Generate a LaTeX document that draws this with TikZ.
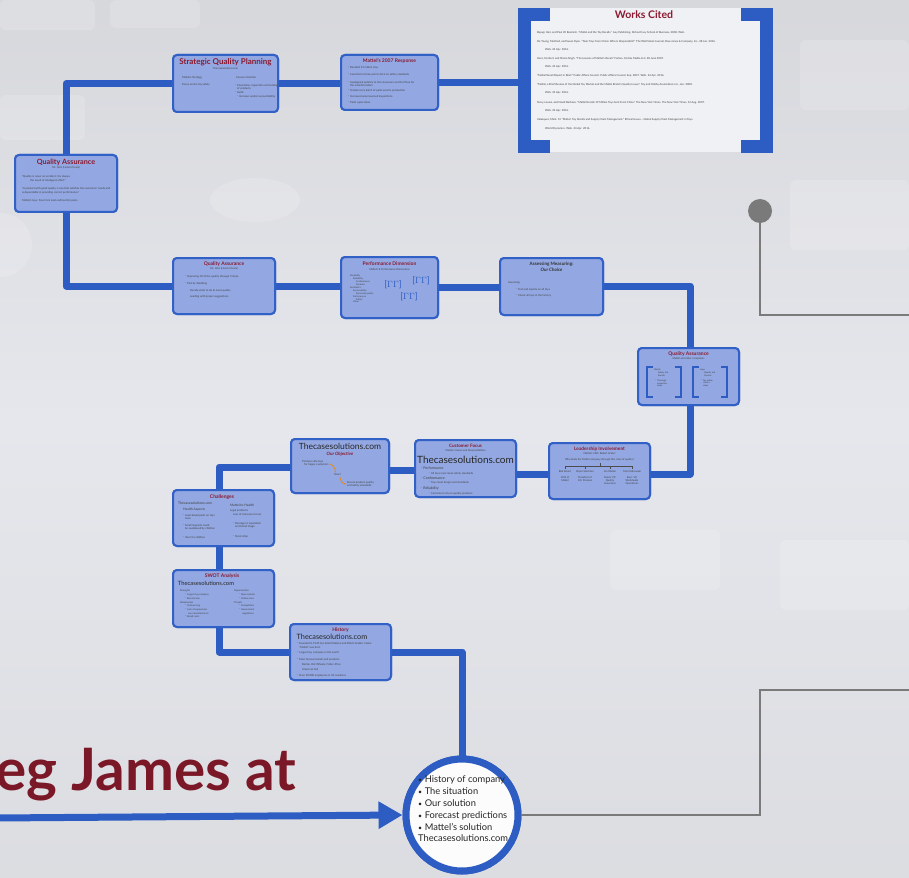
\documentclass[tikz,border=0pt]{standalone}
\usepackage{fontspec}
\setmainfont{Lato}
\usetikzlibrary{arrows.meta,calc}
\definecolor{bgc}{HTML}{E6E7EC}
\definecolor{pathblue}{HTML}{2D5CC3}
\definecolor{boxfill}{HTML}{93A8E2}
\definecolor{boxline}{HTML}{3160C6}
\definecolor{tred}{HTML}{8B1A30}
\definecolor{bigred}{HTML}{7B1828}
\definecolor{grayl}{HTML}{7A7A7A}
\definecolor{orng}{HTML}{E0881E}
\newcommand\mybul{{\scalebox{0.75}{\textbullet}}\hspace{2.5pt}}
\begin{document}
\begin{tikzpicture}[x=1pt,y=-1pt,
  pathline/.style={draw=pathblue,line width=7pt,line join=round},
  box/.style={draw=boxline,fill=boxfill,line width=2pt,rounded corners=4pt,inner sep=0pt},
  ttl/.style={font=\fontsize{5}{6}\selectfont\bfseries,text=tred,inner sep=0pt},
  sub/.style={font=\fontsize{2.6}{3}\selectfont,text=black!75,inner sep=0pt},
  tiny/.style={font=\fontsize{2.7}{3.6}\selectfont,text=black!75,inner sep=0pt,anchor=west,align=left},
  tinyb/.style={tiny,anchor=north west},
  brand/.style={font=\fontsize{7}{8}\selectfont,text=black!85,inner sep=0pt},
  grayline/.style={draw=grayl,line width=2.6pt},
  bracket/.style={draw=pathblue,line width=2.4pt}
]
\useasboundingbox (0,0) rectangle (909,877);
% background
\shade[top color=bgc!85!gray,bottom color=bgc] (0,0) rectangle (909,420);
\shade[top color=bgc,bottom color=bgc!90!gray] (0,420) rectangle (909,877);
\begin{scope}[fill=white,opacity=0.16]
\fill[rounded corners=6pt] (0,0) rectangle (95,30);
\fill[rounded corners=6pt] (110,0) rectangle (200,28);
\fill[rounded corners=6pt] (800,40) rectangle (909,110);
\fill[rounded corners=6pt] (790,180) rectangle (909,250);
\fill[rounded corners=6pt] (0,95) rectangle (85,140);
\fill (255,200) ellipse (45 and 22);
\fill[rounded corners=6pt] (610,530) rectangle (720,590);
\fill[rounded corners=6pt] (780,540) rectangle (909,610);
\fill (0,245) circle (32);
\end{scope}

% ---------- boxes ----------
\node[box,minimum width=102,minimum height=57] (qa1) at (66,183.5) {};
\node[box,minimum width=105,minimum height=57] (sqp) at (225.5,83.5) {};
\node[box,minimum width=97,minimum height=55] (mat) at (389.5,82.5) {};
\node[box,minimum width=102,minimum height=56] (qa2) at (224,286) {};
\node[box,minimum width=97,minimum height=61] (pd) at (389.5,287.5) {};
\node[box,minimum width=103,minimum height=57] (ass) at (551.5,286.5) {};
\node[box,minimum width=101,minimum height=57] (qa3) at (688.5,376.5) {};
\node[box,minimum width=101,minimum height=56] (lead) at (599.5,471) {};
\node[box,minimum width=101,minimum height=57] (cust) at (465.5,468.5) {};
\node[box,minimum width=98,minimum height=54] (obj) at (340,466) {};
\node[box,minimum width=101,minimum height=56] (chal) at (223.5,518) {};
\node[box,minimum width=101,minimum height=57] (swot) at (223.5,598.5) {};
\node[box,minimum width=101,minimum height=56] (hist) at (340.5,652) {};
\node[circle,draw=pathblue,line width=7pt,fill=white!88!bgc,minimum size=112] (circ) at (462,815) {};
\node[circle,fill=grayl,minimum size=24,inner sep=0pt] (dot) at (760,211) {};

% ---------- connectors ----------
\coordinate (wcl) at (520,82);
\coordinate (ga) at (760,815);
\coordinate (gb) at (760,690);
\coordinate (gc) at (912,690);
\coordinate (gd) at (760,315);
\coordinate (ge) at (912,315);
\coordinate (astart) at (-5,818);
\draw[grayline] (circ.east) -- (ga) -- (gb) -- (gc);
\draw[grayline] (dot) -- (gd) -- (ge);
\draw[pathline] (qa1.north) |- (sqp.west);
\draw[pathline] (sqp.east) -- (sqp.east -| mat.west);
\draw[pathline] (mat.east) -- (mat.east -| wcl);
\draw[pathline] (qa1.south) |- (qa2.west);
\draw[pathline] (qa2.east) -- (qa2.east -| pd.west);
\draw[pathline] (pd.east) -- (pd.east -| ass.west);
\draw[pathline] ([yshift=0.5pt]ass.east) -| ([xshift=1.5pt]qa3.north);
\draw[pathline] ([xshift=1.5pt]qa3.south) |- ([yshift=-3pt]lead.east);
\draw[pathline] ([yshift=-3pt]lead.west) -- ([yshift=-3pt]lead.west -| cust.east);
\draw[pathline] ([yshift=-2pt]cust.west) -- ([yshift=-2pt]cust.west -| obj.east);
\draw[pathline] ([yshift=-1pt]obj.west) -| ([xshift=-4.5pt]chal.north);
\draw[pathline] ([xshift=-4.5pt]chal.south) -- ([xshift=-4.5pt]swot.north);
\draw[pathline] ([xshift=-4.5pt]swot.south) |- (hist.west);
\draw[pathline] (hist.east) -| (circ.north);
\draw[draw=pathblue,line width=7pt,-{Triangle[length=24pt,width=26pt]}] (astart) -- (circ.west);

% redraw boxes on top of lines
\foreach \n/\w/\h in {qa1/102/57,sqp/105/57,mat/97/55,qa2/102/56,pd/97/61,ass/103/57,qa3/101/57,lead/101/56,cust/101/57,obj/98/54,chal/101/56,swot/101/57,hist/101/56}{
  \draw[box] ($(\n.center)+(-\w/2,-\h/2)$) rectangle ($(\n.center)+(\w/2,\h/2)$);
}
\draw[draw=pathblue,line width=7pt,fill=white!88!bgc] (circ.center) circle (56);

% ---------- Works Cited ----------
\fill[bgc!60!white] (525,8) rectangle (765,152);
\fill[pathblue] (518,8) rectangle (531,153);
\fill[pathblue] (518,8) rectangle (550,21);
\fill[pathblue] (518,140) rectangle (550,153);
\fill[pathblue] (760,8) rectangle (773,153);
\fill[pathblue] (741,8) rectangle (773,21);
\fill[pathblue] (741,140) rectangle (773,153);
\node[font=\fontsize{10.5}{12}\selectfont\bfseries,text=tred,inner sep=0pt] (wct) at (644,15) {Works Cited};
\node[tiny] (w1) at (537,33) {Bapuji, Hari, and Paul W. Beamish. ``Mattel and the Toy Recalls.'' Ivey Publishing. Richard Ivey School of Business, 2008. Web.};
\node[tiny] (w2) at (537,42) {De Young, Manfred, and Susan Ryan. ``Toxic Toys from China: Who Is Responsible?'' The Wall Street Journal, Dow Jones \& Company, Inc., 28 Jan. 2016.};
\node[tiny] (w2b) at (545,50) {Web. 24 Apr. 2016.};
\node[tiny] (w3) at (537,59) {Hero, Herbert, and Shona Singh. ``The Lessons of Mattel's Recall.'' Forbes. Forbes Media LLC, 28 June 2007.};
\node[tiny] (w3b) at (545,67) {Web. 24 Apr. 2016.};
\node[tiny] (w4) at (537,76) {``Mattel Recall Report in Brief.'' Public Affairs Council. Public Affairs Council, Sep. 2007. Web. 24 Apr. 2016.};
\node[tiny] (w5) at (537,85) {``Mattel, a Brief Review of the Global Toy Market and the Mattel Brand's Quality Issues.'' Toy and Hobby Association, Inc., Jan. 2008.};
\node[tiny] (w5b) at (545,93) {Web. 24 Apr. 2016.};
\node[tiny] (w6) at (537,103) {Story, Louise, and David Barboza. ``Mattel Recalls 19 Million Toys Sent From China.'' The New York Times. The New York Times, 14 Aug. 2007.};
\node[tiny] (w6b) at (545,111) {Web. 24 Apr. 2016.};
\node[tiny] (w7) at (537,120) {Velasquez, Mark. M. ``Mattel: Toy Recalls and Supply Chain Management.'' Ethical Issues -- Global Supply Chain Management in Toys.};
\node[tiny] (w7b) at (545,129) {World Dynamics. Web. 24 Apr. 2016.};

% ---------- box contents ----------
% QA1
\node[ttl,font=\fontsize{7.2}{8}\selectfont\bfseries] (t1) at (66,162) {Quality Assurance};
\node[sub] (s1) at (66,168) {Mr. John (Head of team)};
\node[tinyb] (q1a) at (22,175.5) {``Quality is never an accident; it is always\\\hspace{8pt}the result of intelligent effort.''};
\node[tinyb] (q1b) at (22,187.5) {``A product with good quality is one that satisfies the customers' needs and\\is dependable in providing correct performance.''};
\node[tiny] (q1c) at (22,201) {Mattel's toys: Free from lead and harmful parts.};
% SQP
\node[ttl,font=\fontsize{8}{9}\selectfont\bfseries] (t2) at (225.5,62) {Strategic Quality Planning};
\node[sub] (s2) at (225.5,68.5) {Thecasesolutions.com};
\node[tiny] (sq1) at (182,78) {Mattel's Strategy};
\node[tiny] (sq2) at (182,85) {Focus on the toy safety};
\node[tiny] (sq3) at (236,78) {Course of Action};
\node[tinyb] (sq4) at (234,83.5) {$\cdot$ Prevention, inspection and testing\\\hspace{3pt}of products\\$\cdot$ Audit};
\node[tiny] (sq5) at (236,97) {$\cdot$ Increase vendor accountability};
% Mattel
\node[ttl] (t3) at (389.5,61) {Mattel's 2007 Response};
\node[tiny] (m1) at (347,68) {$\cdot$ Recalled 21 million toys};
\node[tiny] (m2) at (347,75) {$\cdot$ Launched a three-point check on safety standards};
\node[tinyb] (m3) at (347,80.5) {$\cdot$ Apologized publicly to the consumers and to China for\\\hspace{3pt}the misinformation};
\node[tiny] (m4) at (347,91) {$\cdot$ Tested every batch of paint used in production};
\node[tiny] (m5) at (347,97) {$\cdot$ Increased unannounced inspections};
\node[tiny] (m6) at (347,103) {$\cdot$ Paint supervision};
% QA2
\node[ttl] (t4) at (224,264) {Quality Assurance};
\node[sub] (s4) at (224,269) {Mr. John (Head of team)};
\node[tiny] (qa2a) at (184,277) {$\cdot$ Improving 10 of the quality through 3 steps};
\node[tiny] (qa2b) at (184,284) {$\cdot$ Plan by Stedding};
\node[tiny] (qa2c) at (190,291) {Decide what to do to meet quality};
\node[tiny] (qa2d) at (190,297) {Leading with proper suggestions};
% PD
\node[ttl] (t5) at (389.5,264) {Performance Dimension};
\node[sub] (s5) at (389.5,270) {Mattel's 8 Performance Dimensions};
\node[tinyb,font=\fontsize{2.3}{2.9}\selectfont] (pda) at (350,275) {Durability\\\hspace{3pt}Reliability\\\hspace{6pt}Conformance\\\hspace{6pt}Features\\Aesthetics\\\hspace{3pt}Serviceability\\\hspace{6pt}Perceived quality\\\hspace{3pt}Performance\\\hspace{6pt}Safety\\\hspace{3pt}Value};
\node[font=\fontsize{9}{10}\selectfont,text=pathblue,inner sep=0pt] (pb1) at (393,285) {[$\Gamma\Gamma$]};
\node[font=\fontsize{9}{10}\selectfont,text=pathblue,inner sep=0pt] (pb2) at (421,281) {[$\Gamma\Gamma$]};
\node[font=\fontsize{9}{10}\selectfont,text=pathblue,inner sep=0pt] (pb3) at (409,297) {[$\Gamma\Gamma$]};
% Assessing
\node[font=\fontsize{4.6}{5.5}\selectfont\bfseries,text=black!80,inner sep=0pt,align=center] (t6) at (551.5,267) {Assessing Measuring:\\\textit{Our Choice}};
\node[tiny] (as1) at (508,283) {Assessing};
\node[tiny] (as2) at (515,289) {$\cdot$ Test and reports on all toys};
\node[tiny] (as3) at (515,295) {$\cdot$ Check all toys in the factory};
% QA3
\node[ttl] (t7) at (688.5,354) {Quality Assurance};
\node[sub] (s7) at (688.5,359) {Mattel and other companies};
\draw[bracket] (653,367) -- (647,367) -- (647,397) -- (653,397);
\draw[bracket] (675,367) -- (681,367) -- (681,397) -- (675,397);
\draw[bracket] (699,367) -- (693,367) -- (693,397) -- (699,397);
\draw[bracket] (721,367) -- (727,367) -- (727,397) -- (721,397);
\node[tinyb,font=\fontsize{2.2}{2.8}\selectfont] (qb1) at (654,369) {Mattel\\\hspace{4pt}Safety test\\\hspace{4pt}Recalls\\[2pt]$\cdot$ Thorough\\\hspace{3pt}inspection\\\hspace{3pt}steps};
\node[tinyb,font=\fontsize{2.2}{2.8}\selectfont] (qb2) at (700,369) {Lego\\\hspace{4pt}Quality test\\\hspace{4pt}Control\\[2pt]$\cdot$ Toy safety\\\hspace{3pt}checks\\\hspace{3pt}steps};
% Leadership
\node[ttl,font=\fontsize{4.8}{5.5}\selectfont\bfseries] (t8) at (599.5,449) {Leadership Involvement};
\node[sub] (s8) at (599.5,454) {Mattel's CEO: Robert Eckert};
\node[sub] (s8b) at (599.5,460) {Who leads the Mattel company through this crisis of quality?};
\draw[draw=black!70,line width=0.4pt] (600,463) -- (600,466) (565,466) -- (632,466)
  (565,466) -- (565,469) (585,466) -- (585,469) (610,466) -- (610,469) (632,466) -- (632,469);
\node[sub] (l1) at (565,472) {Bob Eckert};
\node[sub] (l2) at (585,472) {Bryan Stockton};
\node[sub] (l3) at (610,472) {Jim Walter};
\node[sub] (l4) at (632,472) {Tom Debrowski};
\node[sub,align=center,anchor=north] (l1b) at (565,476) {CEO of\\Mattel};
\node[sub,align=center,anchor=north] (l2b) at (585,476) {President of\\Intl. Division};
\node[sub,align=center,anchor=north] (l3b) at (610,476) {Senior VP,\\Quality\\Assurance};
\node[sub,align=center,anchor=north] (l4b) at (632,476) {Exec. VP,\\Worldwide\\Operations};
% Customer focus
\node[ttl,font=\fontsize{4.6}{5.5}\selectfont\bfseries] (t9) at (465.5,446) {Customer Focus};
\node[sub] (s9) at (465.5,451) {Mattel's Values and Responsibilities};
\node[brand,font=\fontsize{10}{11}\selectfont] (b9) at (465.5,459.5) {Thecasesolutions.com};
\node[tiny,font=\fontsize{3.6}{4}\selectfont] (c1) at (420,468) {$\cdot$ Performance};
\node[tiny] (c1b) at (428,473) {$\cdot$ All toys must meet safety standards};
\node[tiny,font=\fontsize{3.6}{4}\selectfont] (c2) at (420,478) {$\cdot$ Conformance};
\node[tiny] (c2b) at (428,483) {$\cdot$ Toys meet design and standards};
\node[tiny,font=\fontsize{3.6}{4}\selectfont] (c3) at (420,488) {$\cdot$ Reliability};
\node[tiny] (c3b) at (428,493) {$\cdot$ Customers rely on quality products};
% Objective
\node[brand,font=\fontsize{8.5}{9}\selectfont] (b10) at (340,446) {Thecasesolutions.com};
\node[font=\fontsize{4.5}{5}\selectfont\itshape\bfseries,text=tred,inner sep=0pt] (t10) at (340,454) {Our Objective};
\node[tinyb] (o1) at (302,460) {Produce safe toys\\\hspace{2pt}for happy customers};
\node[tiny] (o2) at (334,475) {How?};
\node[tinyb] (o3) at (347,481) {Ensure product quality\\and safety standards};
\draw[orng,line width=0.8pt,-{Stealth[length=2pt]}] (330,464) to[bend left=40] (335,473);
\draw[orng,line width=0.8pt,-{Stealth[length=2pt]}] (340,477) to[bend right=40] (346,484);
% Challenges
\node[ttl] (t11) at (222,497) {Challenges};
\node[tiny,font=\fontsize{3.5}{4}\selectfont] (ch1) at (178,503) {Thecasesolutions.com};
\node[tiny,font=\fontsize{3.3}{4}\selectfont] (ch2) at (183,509.5) {Health Aspects};
\node[tinyb] (ch3) at (182,513.5) {$\cdot$ Lead-based paint on toys\\\hspace{3pt}toxic};
\node[tinyb] (ch4) at (182,523.5) {$\cdot$ Small magnets could\\\hspace{3pt}be swallowed by children};
\node[tiny] (ch5) at (182,537) {$\cdot$ Harm to children};
\node[tiny,font=\fontsize{3.3}{4}\selectfont] (ch6) at (230,505) {Mattel to Health};
\node[tinyb] (ch7) at (230,509.5) {Legal problems\\\hspace{3pt}Loss of consumers trust};
\node[tinyb] (ch8) at (232,521.5) {$\cdot$ Damage to reputation\\\hspace{3pt}and brand image};
\node[tiny] (ch9) at (232,536) {$\cdot$ Stock drop};
% SWOT
\node[ttl] (t12) at (222,576.5) {SWOT Analysis};
\node[brand,font=\fontsize{5.8}{6.5}\selectfont] (b12) at (206,583.5) {Thecasesolutions.com};
\node[tinyb,font=\fontsize{2.4}{3.7}\selectfont] (sw1) at (180,590) {Strengths\\\hspace{4pt}$\cdot$ Largest toy company\\\hspace{4pt}$\cdot$ Brand name\\Weaknesses\\\hspace{4pt}$\cdot$ Outsourcing\\\hspace{4pt}$\cdot$ Lack of supervision\\\hspace{8pt}over manufacturers\\\hspace{4pt}$\cdot$ Recall costs};
\node[tinyb,font=\fontsize{2.4}{3.7}\selectfont] (sw2) at (234,590) {Opportunities\\\hspace{4pt}$\cdot$ New markets\\\hspace{4pt}$\cdot$ Online sales\\Threats\\\hspace{4pt}$\cdot$ Competitors\\\hspace{4pt}$\cdot$ Government\\\hspace{8pt}regulations};
% History
\node[ttl] (t13) at (340.5,630) {History};
\node[brand,font=\fontsize{7.3}{8}\selectfont] (b13) at (332,637) {Thecasesolutions.com};
\node[tinyb] (h1) at (296,642) {$\cdot$ Founded in 1945 by Harold Matson and Elliot Handler. Name\\\hspace{3pt}``Mattel'' was born};
\node[tiny] (h2) at (296,653) {$\cdot$ Largest toy company in the world};
\node[tiny] (h3) at (296,659) {$\cdot$ Most famous brands and products};
\node[tiny] (h4) at (302,664.5) {Barbie, Hot Wheels, Fisher-Price};
\node[tiny] (h5) at (302,669.5) {American Girl};
\node[tiny] (h6) at (296,675) {$\cdot$ Over 30,000 employees in 43 countries};

% ---------- circle text ----------
\node[anchor=north west,align=left,inner sep=0pt,font=\fontsize{9.3}{11.8}\selectfont,text=black!85] (ctext) at (418,776)
  {\mybul History of company\\\mybul The situation\\\mybul Our solution\\\mybul Forecast predictions\\\mybul Mattel's solution\\Thecasesolutions.com};

% ---------- big title ----------
\node[anchor=base west,inner sep=0pt,font=\fontsize{58.5}{66}\selectfont\bfseries,text=bigred] (big) at (-5,790) {eg James at};
\end{tikzpicture}
\end{document}
